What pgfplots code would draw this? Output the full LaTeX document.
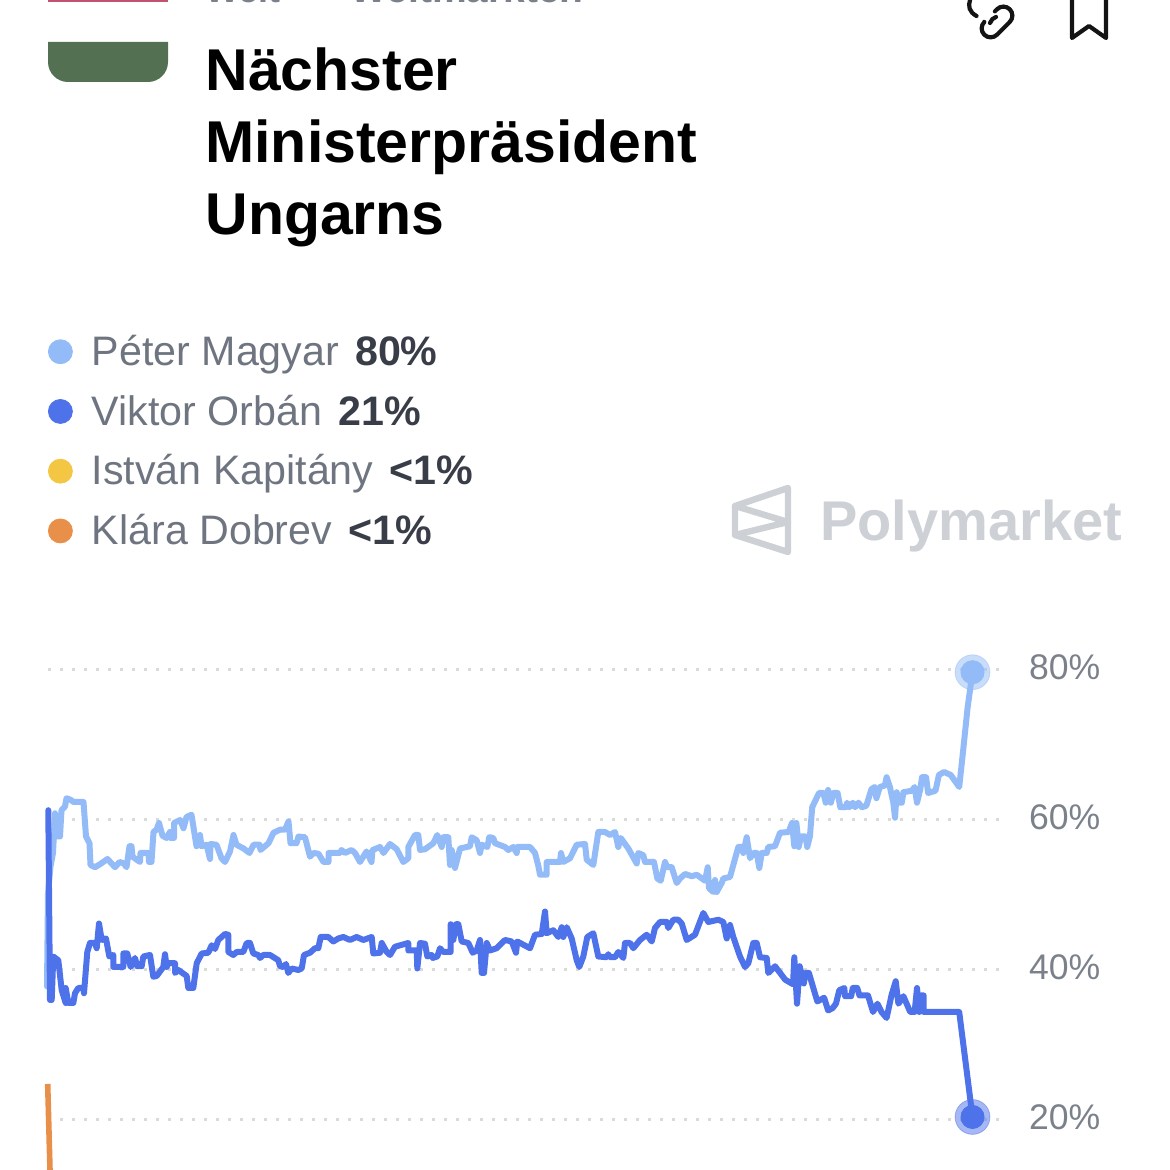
\documentclass[border=0pt]{standalone}
\usepackage{pgfplots}
\pgfplotsset{compat=1.18}
\usepackage{fontspec}
\setmainfont{Liberation Sans}
\definecolor{lightb}{HTML}{93BBF7}
\definecolor{darkb}{HTML}{4E72EA}
\definecolor{orangeb}{HTML}{E88F49}
\definecolor{yellowb}{HTML}{F3C744}
\definecolor{tickg}{HTML}{7B818B}
\definecolor{legg}{HTML}{6F7580}
\definecolor{valg}{HTML}{383D47}
\definecolor{logog}{HTML}{CDD0D5}
\definecolor{flagg}{HTML}{537052}
\definecolor{flagr}{HTML}{C2526F}
\definecolor{gridg}{HTML}{DADADA}
\begin{document}
\begin{tikzpicture}[x=0.5pt,y=-0.5pt,yshift=585pt]
\useasboundingbox (0,0) rectangle (1170,1170);
% flag
\fill[flagg] (48,42) -- (168,42) -- (168,62) arc[start angle=0,end angle=90,radius=20] -- (68,82) arc[start angle=90,end angle=180,radius=20] -- cycle;
\fill[flagr] (48,0) rectangle (168,2);
% breadcrumb, cut by the page edge
\node[anchor=base west,inner sep=0,text=tickg,font=\fontsize{18}{18}\bfseries\selectfont] at (205,3) {Welt};
\node[anchor=base west,inner sep=0,text=tickg,font=\fontsize{19.5}{18}\bfseries\selectfont] at (350,3) {Weltmärkten};
% title
\node[anchor=base west,inner sep=0,font=\fontsize{29.5}{30}\bfseries\selectfont] at (205,91) {Nächster};
\node[anchor=base west,inner sep=0,font=\fontsize{29.5}{30}\bfseries\selectfont] at (205,163) {Ministerpräsident};
\node[anchor=base west,inner sep=0,font=\fontsize{29.5}{30}\bfseries\selectfont] at (205,235) {Ungarns};
% icons
\draw[line width=2.1pt,black!92,line cap=round,rounded corners=4.5pt,rotate around={45:(997,22)}] (988,13) -- (979,13) -- (979,31) -- (1015,31) -- (1015,13) -- (1003,13);
\draw[line width=2.1pt,black!92,line cap=round] (976.5,16) .. controls (969,12) and (968,6) .. (970,0);
\draw[line width=2.1pt,black!92,line cap=round] (990,23) .. controls (991,20) and (993,18) .. (996,17);
\draw[line width=2.1pt,black!92,line join=round] (1072,-5) -- (1072,38) -- (1089,26) -- (1106,38) -- (1106,-5);
% logo
\draw[logog,line width=3.2pt,line join=round] (788,488) -- (735,506) -- (735,535) -- (788,552) -- cycle;
\draw[logog,line width=3.2pt,line join=round] (735,506) -- (788,522) -- (735,535);
\node[anchor=base west,inner sep=0,text=logog,font=\fontsize{28}{29}\bfseries\selectfont] at (820,541) {Polymarket};
\begin{axis}[
  at={(24pt,-585pt)}, anchor=south west,
  scale only axis, width=476pt, height=287.5pt,
  xmin=48, xmax=1000, ymin=13.33, ymax=90,
  clip=false,
  axis line style={draw=none},
  xtick=\empty,
  ytick={20,40,60,80},
  yticklabels={20\%,40\%,60\%,80\%},
  yticklabel pos=right,
  major tick length=0pt,
  ymajorgrids,
  grid style={gridg,line width=1.5pt,dash pattern=on 1.5pt off 4.5pt},
  yticklabel style={text=tickg,font=\fontsize{17.8}{17.8}\selectfont,anchor=west,xshift=11pt,yshift=1.5pt},
  legend style={at={(0,1.459)},anchor=north west,draw=none,fill=none,inner sep=0pt,outer sep=0pt,
    font=\fontsize{20.6}{20.6}\selectfont,text=legg,
    row sep=9.2pt},
  legend cell align=left,
  legend image code/.code={\fill[#1] (6pt,0pt) circle (6pt);},
]
\addlegendimage{lightb}\addlegendentry{\hspace*{7.5pt}Péter Magyar\hspace{8pt}\textcolor{valg}{\textbf{80\%}}}
\addlegendimage{darkb}\addlegendentry{\hspace*{7.5pt}Viktor Orbán\hspace{8pt}\textcolor{valg}{\textbf{21\%}}}
\addlegendimage{yellowb}\addlegendentry{\hspace*{7.5pt}István Kapitány\hspace{8pt}\textcolor{valg}{\textbf{<1\%}}}
\addlegendimage{orangeb}\addlegendentry{\hspace*{7.5pt}Klára Dobrev\hspace{8pt}\textcolor{valg}{\textbf{<1\%}}}

\addplot[lightb,line width=3pt,line join=round,line cap=round] coordinates {
(47,37.8)(48,50.2)(50.5,53.8)(53,55.6)(55,60.9)(55,57.8)(60,57.8)(61.5,61.3)(65,61.8)(66.5,62.9)(70.5,62.7)(73.5,62.4)(83.5,62.4)(86,57.8)(89.5,56.9)(90.5,54)(95,53.7)(100,54.1)(107.5,54.8)(115,53.7)(119.5,54.4)(124,54.2)(126.5,53.7)(129.5,56.5)(131.5,56.5)(132.5,55.1)(140,54.4)(140.5,55.6)(148.5,55.6)(149,54.4)(151.5,54.4)(153.5,58.4)(156.5,58.7)(159,59.6)(162.5,57.9)(166.5,57.6)(170,58.4)(170.5,57.6)(174,57.6)(174,59.6)(180,60)(183.5,58.9)(186.5,60.4)(191.5,60.7)(196.5,56.5)(200,58)(201.5,56.5)(206.5,56.7)(210,54.8)(210.5,56.8)(216.5,56.7)(221.5,54.9)(225,54.4)(230,55.8)(233.5,58)(236.5,56.7)(243.5,56.2)(249.5,55.6)(253.5,56.7)(259.5,56.7)(260.5,56)(268.5,56.9)(273.5,58.3)(280,58.7)(285,58.7)(288.5,59.8)(290.5,56.9)(296.5,56.9)(298.5,57.8)(305,57.7)(310,55.1)(313.5,55.6)(318.5,55.5)(323.5,54.4)(328.5,54.4)(328.5,55.6)(340,55.6)(341.5,56)(345,55.6)(351.5,56)(355,55.6)(360,54.4)(366.5,55.8)(371.5,54.4)(372.5,56)(380,56.4)(383.5,55.6)(390,56.8)
(396.7,56.1)(403.3,54.4)(408.3,54.9)(408.3,56.4)(415,58)(418.3,58)(420,56)(425,56.1)(433.3,56.9)(437.3,58)(441.7,56.4)(443.3,57.7)(448.3,57.7)(450,54)(451.7,56)(455,53.6)(460,56.2)(470,56.5)(471.7,57.7)(476.7,57.3)(480,55.6)(481.7,56.7)(487.3,56.4)(489.3,57.7)(493.3,57.6)(495,56.9)(505,56.4)(508.3,56)(513.3,56.4)(516.7,55.6)(517.3,56.4)(530,56.4)(535,55.6)(538.3,53.9)(540,52.7)(546.7,52.7)(546.7,54.4)(560,54.4)(561,55.6)(563.3,54.4)(570,54.9)(576.7,56.7)(585,56.8)(586.7,54.7)(593.3,54)(598.3,58.4)(605,58.4)(610,58)(615,58.4)(618.3,56.4)(620.7,57.6)(628.3,56.2)(636.7,54.2)(638.3,55.6)(643.3,55.3)(645,54.4)(654,54.4)(657.3,52.2)(660.7,51.9)(665,54.4)(667.3,53.7)(671.7,53.7)(676.7,51.6)(680,52.2)(685,52.8)(691.7,52.5)(696.7,52.7)(705,51.9)(707.7,53.7)(709,50.9)(713.3,50.4)(715,52)(716.7,50.4)(721.7,51.6)(723.3,52.2)(730,52.4)(733.3,54)(738.3,56.4)(741.7,56.4)(743.3,55.6)(746.7,57.7)(750,54.9)(753.3,55.6)(756.7,55.6)(759.3,53.6)(761.7,55.6)(766.7,55.6)(768.3,56.4)
(775,56.5)(780,58.3)(788.6,58.4)(792,59.6)(794.3,56.5)(796.4,59.6)(798.7,56.4)(801,57.8)(805.5,57.8)(807.2,56.4)(809.9,57.8)(812.2,61.7)(819,63.6)(823.4,63.6)(825.7,62.3)(828.1,64)(830.8,62.3)(833.5,63.6)(837.6,63.6)(840.3,61.7)(846,61.7)(847,62.3)(849.4,61.7)(852.8,62.3)(855.1,61.7)(858.5,62.3)(861.9,61.7)(866.3,61.9)(871.4,64.1)(874.7,64.4)(876.4,62.9)(879.8,64.4)(884.9,64.6)(886.6,65.7)(889.9,64.4)(893.3,62.3)(895,60.3)(896.7,63.7)(898.4,62.3)(901.8,62.3)(903.4,63.7)(911.9,63.9)(914.6,64.4)(917,62.3)(920.3,64.1)(922,65.7)(926.1,65.7)(928.1,63.6)(935.5,63.9)(938.9,66)(944,66.4)(950.7,66)(959.2,64.4)(962.6,68.6)(967.6,75)(972.5,79.7)
};
\addplot[darkb,line width=3pt,line join=round,line cap=round] coordinates {
(48.3,61.3)(50,36)(51.7,36)(53.3,41.8)(58.3,41.3)(61.7,37.3)(65.7,35.6)(65.7,37.6)(68.3,35.6)(73.3,35.6)(75,36.9)(78.3,37.6)(83.3,37.6)(84,36.9)(87.3,42.4)(90,43.6)(95,43.6)(96.7,42.9)(99,46.2)(101.7,44)(106,44.2)(109.3,41.8)(113.3,42)(113.3,40.4)(123.3,40.4)(123.3,42.2)(127.3,42.2)(130.7,40.4)(135,41.6)(137.3,40.5)(141.7,40.5)(143.3,41.8)(150,42)(153.3,39.1)(156.7,39.2)(163.3,40.4)(165,42.1)(166.7,40.4)(168.3,40.9)(175,40.9)(175,39.6)(178.3,40)(186.7,39.2)(188.3,37.6)(193.3,37.6)(196.7,40.9)(201.7,42.2)(208.3,42.3)(211.7,43.3)(215,42.8)(218.3,44)(225,44.8)(228.3,44.7)(228.3,42.4)(233.3,42)(236.7,42.4)(243.3,42.4)(246.7,43.6)(250,43.6)(253.3,42.2)(258.3,42)(260,41.6)(263.3,42)(270,42)(278.3,41.3)(280,40.5)(283.3,40.4)(286,40.8)(288.3,39.6)(291.7,40.2)(298.3,40)(301.7,40.2)(304,42)(310,42.3)(315,42.9)(318.3,42.9)(320.7,44.4)(328.3,44.4)(333.3,43.8)(338.3,44.2)(343.3,44.4)(350,44)(356.7,44.4)(363.3,44)(371.7,44.4)(373.3,42.2)(380,42.3)(381.7,43.6)(386.7,42.4)(390,42)(395,43.1)
(408.3,43.6)(408.3,42.6)(416.7,42.6)(417.3,40.2)(420,43.6)(425,43.5)(427.3,41.8)(431.7,42)(432.7,41.6)(437.3,41.8)(440,42.9)(443.3,42.4)(450.7,42.4)(450.7,46.1)(453.3,44)(456,46.1)(458.3,46.1)(461.7,43.8)(468.3,43.6)(472.7,42.3)(476.7,42.6)(480,44)(481.7,39.6)(484,39.6)(486.7,43.6)(490,42.6)(496.7,42.9)(505,44)(511.7,43.8)(516,42.3)(517.3,43.8)(530,42.9)(535,44.7)(541.7,44.8)(545,47.8)(546.7,44.9)(553.3,45.3)(558.3,44.4)(561.7,45.7)(563.3,44.4)(566.7,45.7)(571.7,44.2)(576.7,41.3)(579.3,40.4)(583.3,41.8)(587.3,44.4)(593.3,44.9)(598.3,41.8)(606.7,41.7)(608.3,42.1)(610,41.7)(615,41.7)(618.3,42.4)(623.3,41.6)(625,43.6)(630,43.6)(633.3,42.9)(640,44)(646.7,44.7)(651.7,43.8)(655,45.6)(660,46.4)(666.7,46.4)(668.3,45.6)(673.3,46.7)(678.3,46.7)(681.7,46.2)(686.7,44)(695,44.7)(703.3,47.6)(708.3,46.4)(718.3,46.7)(723.3,46.4)(726.7,44.2)(730,46)(733.3,44.4)(740,41.8)(745,40.4)(748.3,40.9)(753.3,43.6)(756.7,43.6)(760,41.7)(766.7,41.6)(768.3,39.6)
(775,40.5)(785.2,38.7)(793,38.1)(794.3,41.7)(797,35.5)(799.7,40.5)(803.8,38.2)(805.5,39.6)(808.9,39.6)(817.3,35.8)(824.1,36.3)(828.1,34.6)(832.5,34.9)(835.9,35.5)(839.3,37.3)(844.3,37.6)(845,36.5)(851.1,36.5)(852.8,37.6)(857.2,37.6)(859.5,36.6)(868,36.6)(873,34.4)(877.4,35.5)(881.5,34.4)(886.6,33.6)(891.6,36.7)(895.7,38.5)(898.4,35.5)(903.4,36.5)(910.2,34.4)(914.6,34.4)(917,37.6)(919.3,34.4)(921,36.6)(923.7,36.6)(923.7,34.4)(959.2,34.4)(972.5,20.4)
};
\addplot[orangeb,line width=2.8pt] coordinates {(47.7,24.8)(50,13.33)};
\addplot[only marks,mark=*,mark size=8.7pt,color=lightb,opacity=0.5] coordinates {(972.5,79.7)};
\addplot[only marks,mark=*,mark size=5.8pt,color=lightb] coordinates {(972.5,79.7)};
\addplot[only marks,mark=*,mark size=8.7pt,color=darkb,opacity=0.5] coordinates {(972.5,20.4)};
\addplot[only marks,mark=*,mark size=5.8pt,color=darkb] coordinates {(972.5,20.4)};
\end{axis}
\end{tikzpicture}
\end{document}
